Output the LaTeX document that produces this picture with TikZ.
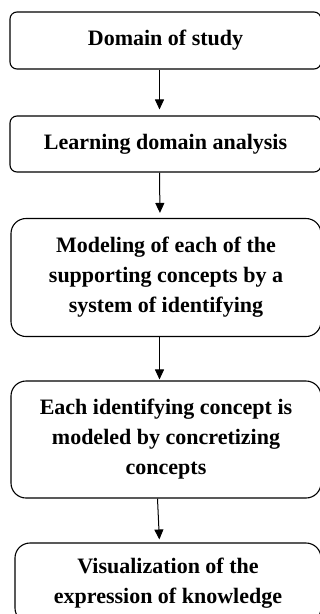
\documentclass[tikz,border=0pt]{standalone}
\usepackage{fontspec}
\setmainfont{Liberation Serif}
\usetikzlibrary{arrows.meta}
\begin{document}
\begin{tikzpicture}[x=1pt,y=-1pt,
  flowbox/.style={draw, line width=1.1pt, align=center, inner sep=0pt,
    font=\fontsize{22}{30}\selectfont\bfseries},
  flowarrow/.style={line width=1pt, -{Triangle[length=10pt,width=9pt]}}]
\useasboundingbox (0,0) rectangle (320,614);
\node[flowbox, rounded corners=7pt, minimum width=311pt, minimum height=57pt] (b1) at (165.5,40.5) {Domain of study};
\node[flowbox, rounded corners=7pt, minimum width=311pt, minimum height=56pt] (b2) at (165.5,144) {Learning domain analysis};
\node[flowbox, rounded corners=15pt, minimum width=310pt, minimum height=118pt] (b3) at (166,277.5) {Modeling of each of the\\supporting concepts by a\\system of identifying};
\node[flowbox, rounded corners=15pt, minimum width=310pt, minimum height=117pt] (b4) at (166,439.5) {Each identifying concept is\\modeled by concretizing\\concepts};
\node[flowbox, rounded corners=15pt, minimum width=306pt, minimum height=80pt] (b5) at (168,583) {Visualization of the\\expression of knowledge};
\draw[flowarrow, shorten >=6pt] ([xshift=-6pt]b1.south) -- ([xshift=-6pt]b2.north);
\draw[flowarrow, shorten >=5pt] ([xshift=-6pt]b2.south) -- ([xshift=-6pt]b3.north);
\draw[flowarrow, shorten >=1pt] ([xshift=-6.5pt]b3.south) -- ([xshift=-6.5pt]b4.north);
\draw[flowarrow, shorten >=3pt] ([xshift=-8.5pt]b4.south) -- ([xshift=-8.5pt]b5.north);
\end{tikzpicture}
\end{document}
